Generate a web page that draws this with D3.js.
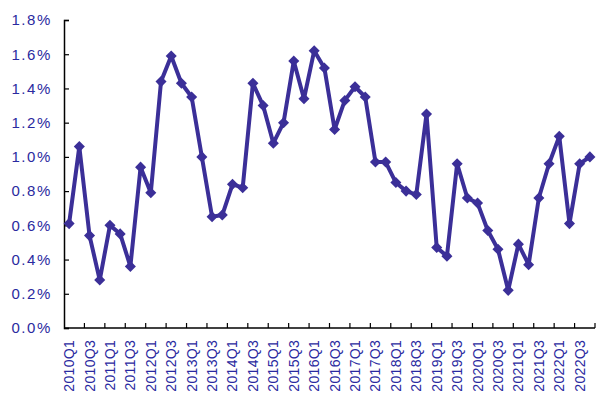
<!DOCTYPE html>
<html>
<head>
<meta charset="utf-8">
<script src="https://cdn.jsdelivr.net/npm/d3@7"></script>
<style>
  body { margin: 0; background: #fff; }
  svg { display: block; }
</style>
</head>
<body>
<svg id="chart" width="596" height="394"></svg>
<script>
const years = [2010,2011,2012,2013,2014,2015,2016,2017,2018,2019,2020,2021,2022];
const quarters = years.flatMap(y => [1,2,3,4].map(q => y + "Q" + q));
const values = [
  0.61, 1.06, 0.54, 0.28, 0.60, 0.55, 0.36, 0.94, 0.79, 1.44, 1.59, 1.43, 1.35,
  1.00, 0.65, 0.66, 0.84, 0.82, 1.43, 1.30, 1.08, 1.20, 1.56, 1.34, 1.62, 1.52,
  1.16, 1.33, 1.41, 1.35, 0.97, 0.97, 0.85, 0.80, 0.78, 1.25, 0.47, 0.42, 0.96,
  0.76, 0.73, 0.57, 0.46, 0.22, 0.49, 0.37, 0.76, 0.96, 1.12, 0.61, 0.96, 1.00
];
const yTicks = [0, 0.2, 0.4, 0.6, 0.8, 1.0, 1.2, 1.4, 1.6, 1.8];
const yTickLabels = ["0.0%","0.2%","0.4%","0.6%","0.8%","1.0%","1.2%","1.4%","1.6%","1.8%"];
const xTickLabels = quarters.filter((d, i) => i % 2 === 0);

const lineColor = "#3b2f98";
const textColor = "#2a2aa0";

const svg = d3.select("#chart");
const mLeft = 64, mRight = 595, mTop = 20, mBottom = 328;

const x = d3.scaleBand().domain(quarters).range([mLeft, mRight]).padding(0);
const y = d3.scaleLinear().domain([0, 1.8]).range([mBottom, mTop]);

// Y axis
const yAxis = d3.axisLeft(y).tickValues(yTicks)
  .tickSize(-5).tickPadding(12)
  .tickFormat((d, i) => yTickLabels[i]);
const gy = svg.append("g").attr("transform", `translate(${mLeft},0)`).call(yAxis);
gy.select(".domain").attr("stroke", "#000").attr("stroke-width", 1.5);
gy.selectAll(".tick line").attr("stroke", "#000").attr("stroke-width", 1.2);
gy.selectAll(".tick text")
  .attr("fill", textColor)
  .style("font-family", "'Liberation Sans', Arial, sans-serif")
  .style("font-size", "15px")
  .style("letter-spacing", "1.6px");

// X axis: ticks at every 2nd category boundary
const boundaries = d3.range(0, quarters.length + 1, 2).map(i => mLeft + i * x.bandwidth());
const gx = svg.append("g");
gx.append("line")
  .attr("x1", mLeft).attr("x2", mRight)
  .attr("y1", mBottom).attr("y2", mBottom)
  .attr("stroke", "#000").attr("stroke-width", 1.5);
gx.selectAll("line.tk").data(boundaries.slice(1)).join("line")
  .attr("class", "tk")
  .attr("x1", d => d).attr("x2", d => d)
  .attr("y1", mBottom).attr("y2", mBottom - 5)
  .attr("stroke", "#000").attr("stroke-width", 1.2);
gx.selectAll("text").data(xTickLabels).join("text")
  .attr("transform", d => `translate(${x(d) + x.bandwidth() / 2 + 5},${mBottom + 12}) rotate(-90)`)
  .attr("text-anchor", "end")
  .attr("fill", textColor)
  .style("font-family", "'Liberation Sans', Arial, sans-serif")
  .style("font-size", "14px")
  .style("letter-spacing", "0.3px")
  .text(d => d);

// Line
const data = quarters.map((q, i) => ({ q, v: values[i] }));
const line = d3.line()
  .x(d => x(d.q) + x.bandwidth() / 2)
  .y(d => y(d.v));
svg.append("path")
  .datum(data)
  .attr("d", line)
  .attr("fill", "none")
  .attr("stroke", lineColor)
  .attr("stroke-width", 4)
  .attr("stroke-linejoin", "round");

// Diamond markers
const diamond = d3.symbol().type(d3.symbolDiamond2).size(78);
svg.selectAll("path.mk").data(data).join("path")
  .attr("class", "mk")
  .attr("d", diamond)
  .attr("transform", d => `translate(${x(d.q) + x.bandwidth() / 2},${y(d.v)})`)
  .attr("fill", lineColor);
</script>
</body>
</html>
